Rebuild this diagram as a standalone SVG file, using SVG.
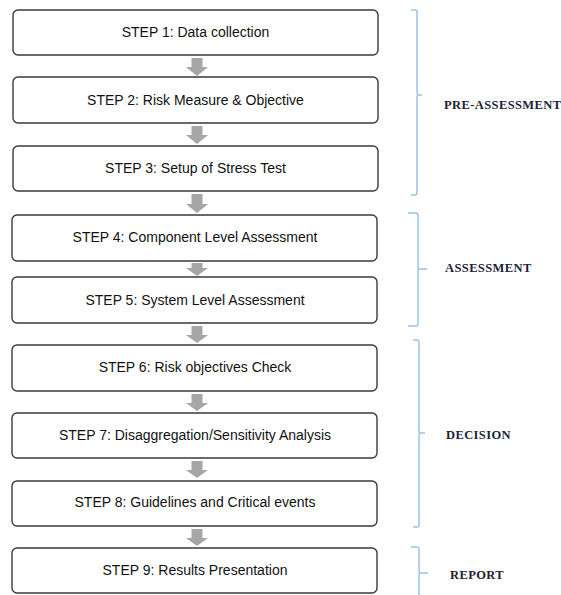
<svg xmlns="http://www.w3.org/2000/svg" width="561" height="595" viewBox="0 0 561 595">
<style>
.box{fill:#fff;stroke:#3a3a3a;stroke-width:1.4}
.t{font-family:"Liberation Sans",Arial,sans-serif;font-size:14px;fill:#111;text-anchor:middle}
.arr{fill:#a6a6a6}
.br{fill:none;stroke:#9dc3e6;stroke-width:1.5}
.lbl{font-family:"Liberation Serif","Times New Roman",serif;font-weight:bold;font-size:12.5px;letter-spacing:0.4px;fill:#1c2233}
</style>
<rect width="561" height="595" fill="#fff"/>
<g id="connectors">
<path class="arr" d="M191.5 58h11v9h5.5l-11 9l-11-9h5.5z"/>
<path class="arr" d="M191.5 126h11v9h5.5l-11 9l-11-9h5.5z"/>
<path class="arr" d="M191.5 194h11v10h5.5l-11 9l-11-9h5.5z"/>
<path class="arr" d="M191.5 263h11v5h5.5l-11 8l-11-8h5.5z"/>
<path class="arr" d="M191.5 326h11v9h5.5l-11 8l-11-8h5.5z"/>
<path class="arr" d="M191.5 394h11v9h5.5l-11 8l-11-8h5.5z"/>
<path class="arr" d="M191.5 461h11v9h5.5l-11 8l-11-8h5.5z"/>
<path class="arr" d="M191.5 529h11v9h5.5l-11 8l-11-8h5.5z"/>
</g>
<g id="step1"><rect class="box" x="13" y="10" width="365" height="45" rx="5"/><text class="t" x="195.5" y="37">STEP 1: Data collection</text></g>
<g id="step2"><rect class="box" x="13" y="77" width="365" height="46" rx="5"/><text class="t" x="195.5" y="105">STEP 2: Risk Measure &amp; Objective</text></g>
<g id="step3"><rect class="box" x="13" y="146" width="365" height="45" rx="5"/><text class="t" x="195.5" y="173">STEP 3: Setup of Stress Test</text></g>
<g id="step4"><rect class="box" x="12" y="215" width="365" height="46" rx="5"/><text class="t" x="195" y="242">STEP 4: Component Level Assessment</text></g>
<g id="step5"><rect class="box" x="12" y="277" width="365" height="46" rx="5"/><text class="t" x="195" y="305">STEP 5: System Level Assessment</text></g>
<g id="step6"><rect class="box" x="12" y="345" width="365" height="46" rx="5"/><text class="t" x="195" y="372">STEP 6: Risk objectives Check</text></g>
<g id="step7"><rect class="box" x="12" y="413" width="365" height="45" rx="5"/><text class="t" x="195" y="440">STEP 7: Disaggregation/Sensitivity Analysis</text></g>
<g id="step8"><rect class="box" x="12" y="481" width="365" height="45" rx="5"/><text class="t" x="195" y="507">STEP 8: Guidelines and Critical events</text></g>
<g id="step9"><rect class="box" x="12" y="548" width="365" height="45" rx="5"/><text class="t" x="195" y="575">STEP 9: Results Presentation</text></g>
<g id="pre-assessment">
<path class="br" d="M411 10h4q2 0 2 2v81q0 2 2 2h3M419 95q-2 0-2 2v96q0 2-2 2h-4"/>
<text class="lbl" x="444" y="109">PRE-ASSESSMENT</text>
</g>
<g id="assessment">
<path class="br" d="M408 213h8q2 0 2 2v52q0 2 2 2h7M420 269q-2 0-2 2v53q0 2-2 2h-8"/>
<text class="lbl" x="445" y="272">ASSESSMENT</text>
</g>
<g id="decision">
<path class="br" d="M413 340h4q2 0 2 2v89q0 2 2 2h4M421 433q-2 0-2 2v90q0 2-2 2h-4"/>
<text class="lbl" x="446" y="439">DECISION</text>
</g>
<g id="report">
<path class="br" d="M411 547h6q2 0 2 2v22q0 2 2 2h7M421 573q-2 0-2 2v20"/>
<text class="lbl" x="450" y="579">REPORT</text>
</g>
</svg>
